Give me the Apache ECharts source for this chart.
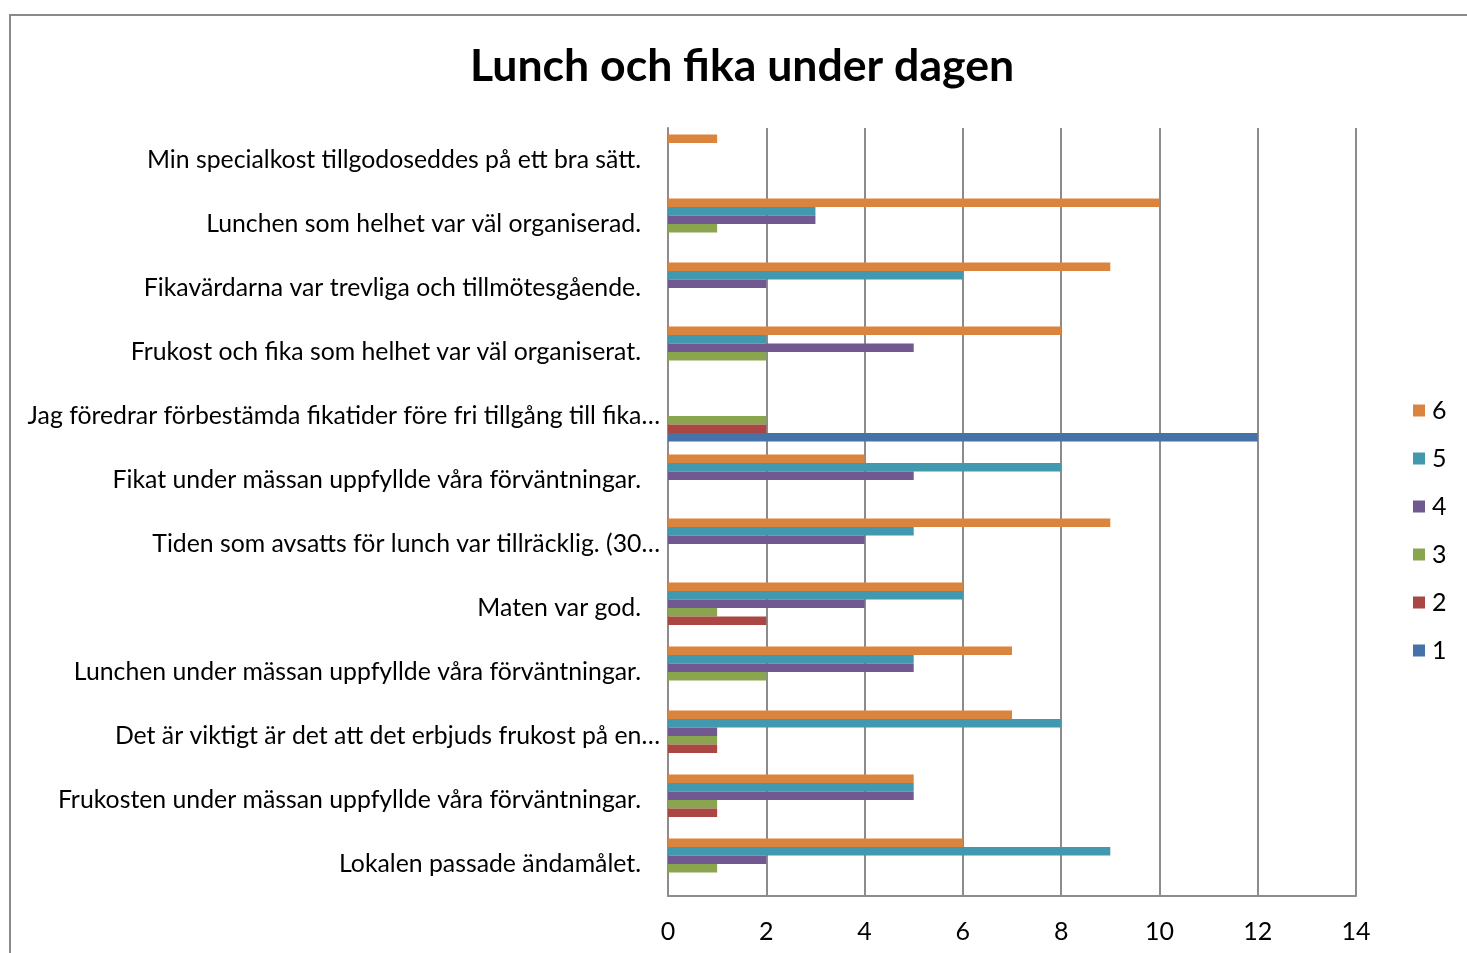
<!DOCTYPE html>
<html>
<head>
<meta charset="utf-8">
<script src="https://cdn.jsdelivr.net/npm/echarts@6/dist/echarts.min.js"></script>
<style>
html,body{margin:0;padding:0;background:#fff;}
#chart{width:1467px;height:953px;}
</style>
</head>
<body>
<div id="chart"></div>
<script>
const title = 'Lunch och fika under dagen';
const categories = [
  'Lokalen passade ändamålet.',
  'Frukosten under mässan uppfyllde våra förväntningar.',
  'Det är viktigt är det att det erbjuds frukost på en…',
  'Lunchen under mässan uppfyllde våra förväntningar.',
  'Maten var god.',
  'Tiden som avsatts för lunch var tillräcklig. (30…',
  'Fikat under mässan uppfyllde våra förväntningar.',
  'Jag föredrar förbestämda fikatider före fri tillgång till fika…',
  'Frukost och fika som helhet var väl organiserat.',
  'Fikavärdarna var trevliga och tillmötesgående.',
  'Lunchen som helhet var väl organiserad.',
  'Min specialkost tillgodoseddes på ett bra sätt.'
];
// series listed top-to-bottom within each group: 6, 5, 4, 3, 2, 1
const seriesNames = ['6', '5', '4', '3', '2', '1'];
const s6 = [6, 5, 7, 7, 6, 9, 4, 0, 8, 9, 10, 1];
const s5 = [9, 5, 8, 5, 6, 5, 8, 0, 2, 6, 3, 0];
const s4 = [2, 5, 1, 5, 4, 4, 5, 0, 5, 2, 3, 0];
const s3 = [1, 1, 1, 2, 1, 0, 0, 2, 2, 0, 1, 0];
const s2 = [0, 1, 1, 0, 2, 0, 0, 2, 0, 0, 0, 0];
const s1 = [0, 0, 0, 0, 0, 0, 0, 12, 0, 0, 0, 0];
const seriesValues = [s6, s5, s4, s3, s2, s1];
const xTicks = [0, 2, 4, 6, 8, 10, 12, 14];

const colors = ['#DB843D', '#4198AF', '#71588F', '#89A54E', '#AA4643', '#4572A7'];
const FONT = 'Lato';

const chart = echarts.init(document.getElementById('chart'), null, {renderer: 'canvas'});
chart.setOption({
  animation: false,
  backgroundColor: '#fff',
  textStyle: {fontFamily: FONT},
  title: {
    text: title,
    left: 470,
    top: 44,
    padding: 0,
    textStyle: {fontFamily: FONT, fontWeight: 'bold', fontSize: 44.6, color: '#000'}
  },
  graphic: [{
    type: 'rect',
    shape: {x: 10, y: 15, width: 1600, height: 1100},
    style: {fill: 'none', stroke: '#8a8a8a', lineWidth: 2},
    silent: true,
    z: -1
  }],
  legend: {
    orient: 'vertical',
    left: 1413,
    top: 398,
    padding: 0,
    data: seriesNames,
    itemWidth: 12,
    itemHeight: 12,
    itemGap: 23,
    icon: 'rect',
    textStyle: {fontFamily: FONT, fontSize: 25, color: '#000', lineHeight: 24, padding: [0, 0, 0, 2]}
  },
  grid: {left: 668, right: 111, top: 128, bottom: 57, containLabel: false},
  xAxis: {
    type: 'value',
    min: xTicks[0],
    max: xTicks[xTicks.length - 1],
    interval: 2,
    axisLine: {show: true, lineStyle: {color: '#8c8c8c', width: 2}},
    axisTick: {show: false},
    axisLabel: {margin: 23, fontFamily: FONT, fontSize: 25, color: '#000'},
    splitLine: {show: true, lineStyle: {color: '#8c8c8c', width: 2}}
  },
  yAxis: {
    type: 'category',
    data: categories,
    axisLine: {show: true, lineStyle: {color: '#8c8c8c', width: 2}},
    axisTick: {show: false},
    axisLabel: {
      margin: 8,
      fontFamily: FONT,
      fontSize: 25,
      color: '#000',
      formatter: function (v) {
        return v.endsWith('…') ? '{t|' + v + '}' : '{n|' + v + '}';
      },
      rich: {
        t: {fontFamily: FONT, fontSize: 24.8, color: '#000'},
        n: {fontFamily: FONT, fontSize: 24.8, color: '#000', padding: [0, 19, 0, 0]}
      }
    },
    splitLine: {show: false}
  },
  series: seriesNames.map(function (name, i) {
    return {
      name: name,
      type: 'bar',
      data: seriesValues[i],
      barGap: '0%',
      barCategoryGap: '20%',
      itemStyle: {color: colors[i]}
    };
  })
});
</script>
</body>
</html>
